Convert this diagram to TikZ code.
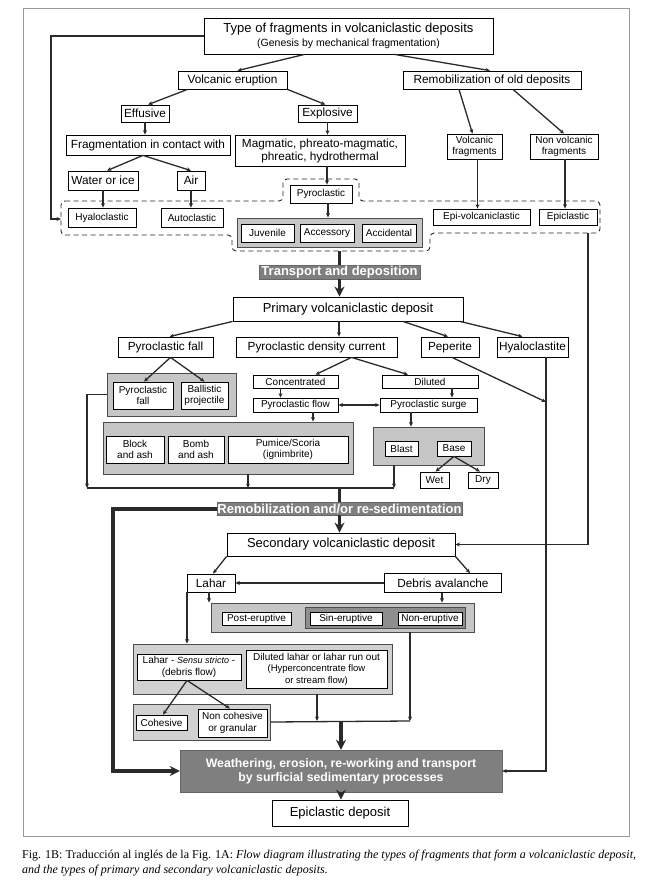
\documentclass[tikz,border=0pt]{standalone}
\usepackage{fontspec}
\setmainfont{Liberation Sans}
\newfontfamily\capfont{Liberation Serif}
\usetikzlibrary{arrows.meta}
\definecolor{grpgray}{HTML}{C6C6C6}
\definecolor{grpdark}{HTML}{8E8E8E}
\definecolor{bandgray}{HTML}{7F7F7F}
\definecolor{linegray}{HTML}{2A2A2A}
\definecolor{framegray}{HTML}{9A9A9A}
\begin{document}
\begin{tikzpicture}[x=1pt,y=-1pt,
    >={Stealth[length=4.5pt,width=4pt]},
    every node/.style={inner sep=0pt, align=center},
    dims/.style 2 args={minimum width=#1pt, minimum height=#2pt},
    box/.style={draw=black, line width=0.8pt, fill=white, font=\fontsize{11.8}{13}\selectfont},
    mainbox/.style={box, font=\fontsize{13}{14.5}\selectfont},
    sbox/.style={draw=black, line width=0.8pt, fill=white, font=\fontsize{10}{11.5}\selectfont},
    group/.style={draw=black!70, line width=0.9pt, fill=grpgray},
    band/.style={draw=black!60, fill=bandgray, text=white, font=\fontsize{13}{14}\selectfont\bfseries},
    link/.style={draw=linegray, line width=1.3pt},
    bigarrow/.style={draw=linegray, line width=3.5pt, -{Stealth[length=10pt,width=10pt]}},
    fence/.style={draw=black!85, line width=0.9pt, dash pattern=on 5pt off 3.5pt}]
    \useasboundingbox (0,0) rectangle (650,887);
    \draw[framegray, line width=0.6pt] (23,8) rectangle (629,836);

    \draw[fence, rounded corners=4pt] (61,201) -- (283,201) -- (283,179) -- (359,179) -- (359,201) -- (600,201)
        -- (600,233) -- (430,233) -- (430,251) -- (232,251) -- (232,235) -- (61,235) -- cycle;
    \coordinate (fl) at (61,219);
    \coordinate (fb) at (339.5,251);
    \coordinate (fr) at (588,233);

    \node[mainbox, dims={289}{36}] (title) at (348.5,36) {Type of fragments in volcaniclastic deposits\\[-1pt]{\fontsize{10.5}{12}\selectfont(Genesis by mechanical fragmentation)}};
    \node[box, dims={109}{18}] (volc) at (232.5,80) {Volcanic eruption};
    \node[box, dims={178}{18}] (remob) at (492,80) {Remobilization of old deposits};
    \node[box, dims={48}{17}] (effusive) at (145,113.5) {Effusive};
    \node[box, dims={59}{17}] (explosive) at (327.5,113.5) {Explosive};
    \node[box, dims={164}{20}] (frag) at (148,145) {Fragmentation in contact with};
    \node[box, dims={170}{31}] (magm) at (320,150.5) {Magmatic, phreato-magmatic,\\phreatic, hydrothermal};
    \node[sbox, dims={55}{25}] (volfrag) at (474.5,146.5) {Volcanic\\fragments};
    \node[sbox, dims={68}{25}] (nonvolfrag) at (564,146.5) {Non volcanic\\fragments};
    \node[box, dims={70}{19}] (water) at (103,180.5) {Water or ice};
    \node[box, dims={28}{19}] (air) at (191,180.5) {Air};
    \node[sbox, dims={62}{18}] (pyro) at (321,194) {Pyroclastic};
    \node[sbox, dims={68}{19}] (hyalo) at (102,217.5) {Hyaloclastic};
    \node[sbox, dims={62}{19}] (auto) at (192,217.5) {Autoclastic};
    \node[sbox, dims={97}{16}] (epivol) at (481.5,217) {Epi-volcaniclastic};
    \node[sbox, dims={58}{16}] (epicl) at (568,217) {Epiclastic};
    \node[group, dims={185}{29}] (juvgray) at (329.5,232.5) {};
    \node[sbox, dims={53}{18}] (juv) at (267.5,233) {Juvenile};
    \node[sbox, dims={54}{18}] (acce) at (327,233) {Accessory};
    \node[sbox, dims={54}{18}] (acci) at (389,233) {Accidental};
    \node[band, dims={161}{14}] (transp) at (339.5,272) {Transport and deposition};

    \node[mainbox, dims={230}{24}] (primary) at (348,309) {Primary volcaniclastic deposit};
    \node[box, dims={95}{20}] (pfall) at (165.5,347) {Pyroclastic fall};
    \node[box, dims={161}{20}] (pdc) at (316.5,347) {Pyroclastic density current};
    \node[box, dims={58}{20}] (peperite) at (450,347) {Peperite};
    \node[box, dims={71}{20}] (hyalocl) at (532.5,347) {Hyaloclastite};
    \node[group, dims={129}{43}] (pfgray) at (171.5,394.5) {};
    \node[sbox, dims={60}{27}] (pfallin) at (143,395.5) {Pyroclastic\\fall};
    \node[sbox, dims={47}{27}] (ballistic) at (204.5,395.5) {Ballistic\\projectile};
    \node[sbox, dims={85}{13}] (conc) at (295.5,381.5) {Concentrated};
    \node[sbox, dims={96}{13}] (dil) at (430,381.5) {Diluted};
    \node[sbox, dims={85}{14}] (pflow) at (295.5,405) {Pyroclastic flow};
    \node[sbox, dims={97}{14}] (psurge) at (428.5,405) {Pyroclastic surge};
    \node[group, dims={250}{52}] (blockgray) at (228,448) {};
    \node[sbox, dims={58}{27}] (blockash) at (135,449.5) {Block\\and ash};
    \node[sbox, dims={56}{27}] (bombash) at (196,449.5) {Bomb\\and ash};
    \node[sbox, dims={120}{27}] (pumice) at (288,449.5) {Pumice/Scoria\\(ignimbrite)};
    \node[group, dims={111}{38}] (blastgray) at (428.5,446) {};
    \node[sbox, dims={33}{15}] (blast) at (401.5,448.5) {Blast};
    \node[sbox, dims={34}{15}] (base) at (454,448.5) {Base};
    \node[sbox, dims={29}{16}] (wet) at (434.5,480) {Wet};
    \node[sbox, dims={30}{16}] (dry) at (483,480) {Dry};
    \coordinate (cl) at (87,488);
    \coordinate (cr) at (394,488);
    \node[band, dims={245}{13}] (remobband) at (339.5,508.5) {Remobilization and/or re-sedimentation};

    \node[mainbox, dims={228}{23}] (second) at (341,544.5) {Secondary volcaniclastic deposit};
    \node[box, dims={48}{18}] (lahar) at (211,583) {Lahar};
    \node[box, dims={117}{19}] (debris) at (443,583) {Debris avalanche};
    \node[group, dims={263}{29}] (posgray) at (342.5,617.5) {};
    \node[group, fill=grpdark, dims={160}{21}] (singray) at (385,617.5) {};
    \node[sbox, dims={69}{13}] (post) at (256.5,618.5) {Post-eruptive};
    \node[sbox, dims={72}{13}] (sin) at (346,618.5) {Sin-eruptive};
    \node[sbox, dims={64}{13}] (non) at (430,618.5) {Non-eruptive};
    \node[group, fill=grpgray!80, dims={259}{50}] (ssgray) at (262.5,669) {};
    \node[sbox, dims={104}{26}] (ss) at (189,667) {Lahar - {\fontsize{9}{11}\selectfont\itshape Sensu stricto} -\\(debris flow)};
    \node[sbox, dims={141}{38}] (dillahar) at (316.5,669) {Diluted lahar or lahar run out\\{\fontsize{9.5}{11}\selectfont(Hyperconcentrate flow}\\{\fontsize{9.5}{11}\selectfont or stream flow)}};
    \node[group, fill=grpgray!80, dims={137}{36}] (cohgray) at (201.5,722) {};
    \node[sbox, dims={51}{15}] (coh) at (161.5,722.5) {Cohesive};
    \node[sbox, dims={69}{28}] (noncoh) at (232.5,723) {Non cohesive\\or granular};
    \coordinate (br) at (410,721);
    \coordinate (lt) at (113,771);
    \node[band, font=\fontsize{12.3}{14}\selectfont\bfseries, dims={322}{42}] (weather) at (341,771) {Weathering, erosion, re-working and transport\\by surficial sedimentary processes};
    \node[mainbox, dims={136}{26}] (epidep) at (340,813) {Epiclastic deposit};
    \coordinate (pj) at (546,402);

    \node[anchor=north west, align=left, font=\capfont\fontsize{12}{15}\selectfont] (caption) at (22,850) {Fig. 1B: Traducción al inglés de la Fig. 1A: \textit{Flow diagram illustrating the types of fragments that form a volcaniclastic deposit,}\\\textit{and the types of primary and secondary volcaniclastic deposits.}};

    \draw[link, line width=2pt, ->] (title.west) -| (51,219) to (fl);
    \draw[link, ->] ([xshift=-44pt]title.south) to ([xshift=5pt]volc.north);
    \draw[link, ->] ([xshift=46pt]title.south) to ([xshift=-2pt]remob.north);
    \draw[link, ->] ([xshift=-45pt]volc.south) to ([xshift=3pt]effusive.north);
    \draw[link, ->] (volc.south east) to ([xshift=-2pt]explosive.north);
    \draw[link, ->] (effusive.south) to (effusive.south |- frag.north);
    \draw[link, ->] (explosive.south) to (explosive.south |- magm.north);
    \draw[link, ->] ([xshift=-5pt]frag.south) to ([xshift=4pt]water.north);
    \draw[link, ->] ([xshift=-5pt]frag.south) to (air.north);
    \draw[link, ->] (water.south) to (water.south |- hyalo.north);
    \draw[link, ->] (air.south) to (air.south |- auto.north);
    \draw[link, ->] ([xshift=7pt]magm.south) to ([xshift=7pt]magm.south |- pyro.north);
    \draw[link, ->] ([xshift=7pt]pyro.south) to ([xshift=7pt]pyro.south |- juvgray.north);
    \draw[link, ->] ([xshift=-33pt]remob.south) to ([xshift=-2pt]volfrag.north);
    \draw[link, ->] ([xshift=21pt]remob.south) to (nonvolfrag.north);
    \draw[link, ->] ([xshift=3pt]volfrag.south) to ([xshift=3pt]volfrag.south |- epivol.north);
    \draw[link, ->] ([xshift=1pt]nonvolfrag.south) to ([xshift=1pt]nonvolfrag.south |- epicl.north);
    \draw[bigarrow, -] (fb) to (transp.north);
    \draw[bigarrow] (transp.south) to (transp.south |- primary.north);

    \draw[link, ->] (primary.south west) to ([xshift=4pt]pfall.north);
    \draw[link, ->] ([xshift=-9pt]primary.south) to ([xshift=-9pt]primary.south |- pdc.north);
    \draw[link, ->] ([xshift=55pt]primary.south) to ([xshift=-2pt]peperite.north);
    \draw[link, ->] ([xshift=112pt]primary.south) to ([xshift=-10pt]hyalocl.north);
    \draw[link, ->] ([xshift=5pt]pfall.south) to ([xshift=1pt]pfallin.north);
    \draw[link, ->] ([xshift=5pt]pfall.south) to (ballistic.north);
    \draw[link, ->] ([xshift=35pt]pdc.south) to ([xshift=20pt]conc.north);
    \draw[link, ->] ([xshift=35pt]pdc.south) to ([xshift=-22pt]dil.north);
    \draw[link, ->] ([xshift=-15pt]conc.south) to ([xshift=-15pt]pflow.north);
    \draw[link, ->] ([xshift=22pt]dil.south) to ([xshift=22pt]dil.south |- psurge.north);
    \draw[link, <->] (pflow.east) to (psurge.west);
    \draw[link, ->] ([xshift=17.5pt]pflow.south) to ([xshift=17.5pt]pflow.south |- blockgray.north);
    \draw[link, ->] ([xshift=-17.5pt]psurge.south) to ([xshift=-17.5pt]psurge.south |- blastgray.north);
    \draw[link, ->] (base.south) to ([xshift=1pt]wet.north);
    \draw[link, ->] (base.south) to ([xshift=-3pt]dry.north);
    \draw[link, ->] (pfgray.west) -| (cl);
    \draw[link, ->] ([xshift=20pt]blockgray.south) to ([xshift=20pt]blockgray.south |- cl);
    \draw[link, ->] (cr |- blastgray.south) to (cr);
    \draw[link] (cl) to (cr);
    \draw[link, ->] ([xshift=2pt]peperite.south) to (pj);
    \draw[bigarrow, -] (remobband.north |- cl) to (remobband.north);

    \draw[bigarrow, line width=4pt] (remobband.west) -| (lt) to (weather.west);
    \draw[bigarrow] (remobband.south) to (remobband.south |- second.north);
    \draw[link, ->] (fr) |- (second.east);
    \draw[link, ->] ([xshift=13.5pt]hyalocl.south) |- (weather.east);
    \draw[link, ->] (second.south west) to ([xshift=2pt]lahar.north);
    \draw[link, ->] (second.south east) to ([xshift=27pt]debris.north);
    \draw[link, ->] (debris.west) to (lahar.east);
    \draw[link, ->] ([xshift=-2pt]lahar.south) to ([xshift=-2pt]lahar.south |- posgray.north);
    \draw[link, ->] ([xshift=-1pt]debris.south) to ([xshift=-1pt]debris.south |- posgray.north);
    \draw[link, ->] ([xshift=-24pt]lahar.south) to ([xshift=-24pt]lahar.south |- ssgray.north);
    \draw[link, ->] ([xshift=-2pt]ss.south) to ([xshift=1.5pt]coh.north);
    \draw[link, ->] ([xshift=-2pt]ss.south) to ([xshift=-2.5pt]noncoh.north);
    \draw[link, ->] (br |- posgray.south) to (br);
    \draw[link, ->] ([xshift=54.5pt]ssgray.south) to ([xshift=54.5pt]ssgray.south |- br);
    \draw[link] (cohgray.east) to (br);
    \draw[bigarrow] (weather.north |- br) to (weather.north);
    \draw[bigarrow] (weather.south) to (weather.south |- epidep.north);
\end{tikzpicture}
\end{document}
